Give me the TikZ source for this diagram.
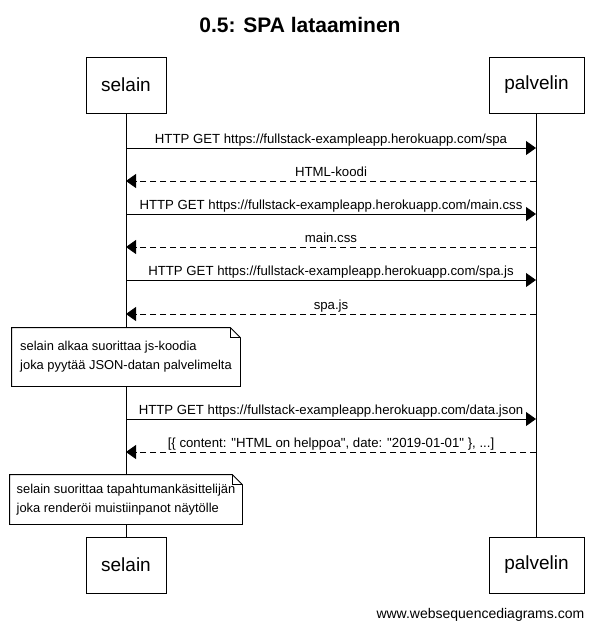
\documentclass[tikz,border=0pt]{standalone}
\usepackage{fontspec}
\setmainfont{Liberation Sans}
\usetikzlibrary{arrows.meta}
\tikzset{
	actor/.style={draw, minimum height=56pt, inner sep=0pt, font=\fontsize{19}{22}\selectfont},
	msg/.style={-{Triangle[length=10pt, width=14pt]}},
	reply/.style={msg, dash pattern=on 6pt off 4pt},
	lbl/.style={anchor=base, yshift=5pt, inner sep=0pt, font=\fontsize{13.2}{15}\selectfont},
	note/.style={align=left, inner sep=0pt, font=\fontsize{12.9}{19}\selectfont}
}
\newcommand{\qq}{\textquotedbl}
\begin{document}
\begin{tikzpicture}[x=1pt, y=-1pt, line width=0.8pt]
		\useasboundingbox (0, 0) rectangle (598, 629);
		\node[font=\bfseries\fontsize{21}{24}\selectfont] (title) at (300, 25) {0.5: SPA lataaminen};
		% actors
		\node[actor, minimum width=80pt] (selain) at (126, 85) {selain};
		\node[actor, minimum width=95pt] (palvelin) at (536.5, 85) {palvelin};
		\node[actor, minimum width=80pt] (selainb) at (126, 565) {selain};
		\node[actor, minimum width=95pt] (palvelinb) at (536.5, 565) {palvelin};
		\draw(selain.south)--(selainb.north);
		\draw(palvelin.south)--(palvelinb.north);
		% messages
		\foreach \n/\y in {1/148, 2/181, 3/214, 4/247, 5/280, 6/314, 7/419, 8/452}{
			\coordinate (s\n) at (126, \y);
			\coordinate (p\n) at (536, \y);
		}
		\draw[msg](s1)--(p1)node[lbl, midway]{HTTP GET https://fullstack-exampleapp.herokuapp.com/spa};
		\draw[reply](p2)--(s2)node[lbl, midway]{HTML-koodi};
		\draw[msg](s3)--(p3)node[lbl, midway]{HTTP GET https://fullstack-exampleapp.herokuapp.com/main.css};
		\draw[reply](p4)--(s4)node[lbl, midway]{main.css};
		\draw[msg](s5)--(p5)node[lbl, midway]{HTTP GET https://fullstack-exampleapp.herokuapp.com/spa.js};
		\draw[reply](p6)--(s6)node[lbl, midway]{spa.js};
		\draw[msg](s7)--(p7)node[lbl, midway]{HTTP GET https://fullstack-exampleapp.herokuapp.com/data.json};
		\draw[reply](p8)--(s8)node[lbl, midway]{[\{ content: \qq HTML on helppoa\qq, date: \qq 2019-01-01\qq{} \}, ...]};
		% notes
		\node[note, minimum width=228pt, minimum height=58pt] (note1) at (126, 357) {selain alkaa suorittaa js-koodia\\joka pyytää JSON-datan palvelimelta};
		\node[note, minimum width=232pt, minimum height=49pt] (note2) at (126, 499.5) {selain suorittaa tapahtumankäsittelijän\\joka renderöi muistiinpanot näytölle};
		\foreach \m in {note1, note2}{
			\filldraw[fill=white](\m.south west)--(\m.north west)--([xshift=-10pt]\m.north east)--([yshift=-10pt]\m.north east)--(\m.south east)--cycle;
			\draw([xshift=-10pt]\m.north east)--([xshift=-10pt, yshift=-10pt]\m.north east)--([yshift=-10pt]\m.north east);
		}
		\node[note, minimum width=228pt, minimum height=58pt] at (note1) {selain alkaa suorittaa js-koodia\\joka pyytää JSON-datan palvelimelta};
		\node[note, minimum width=232pt, minimum height=49pt] at (note2) {selain suorittaa tapahtumankäsittelijän\\joka renderöi muistiinpanot näytölle};
		\node[anchor=base east, font=\fontsize{14}{16}\selectfont] (footer) at (588, 618) {www.websequencediagrams.com};
	\end{tikzpicture}
\end{document}
